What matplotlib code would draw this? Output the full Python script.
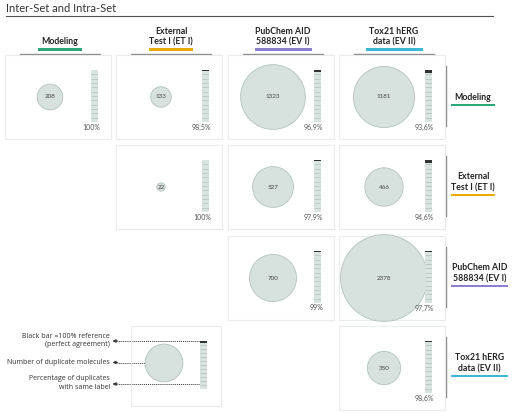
import numpy as np
import matplotlib.pyplot as plt
from matplotlib.patches import Circle, Rectangle

plt.rcParams['font.family'] = ['Lato', 'DejaVu Sans']

# data: duplicate counts and % with same label, upper triangle of the set matrix
set_names = ['Modeling', 'External\nTest I (ET I)', 'PubChem AID\n588834 (EV I)', 'Tox21 hERG\ndata (EV II)']
set_colors = ['#2ba677', '#e8a900', '#8b80cf', '#3cb7d4']
dup_counts = [[208, 133, 1323, 1181],
              [None, 22, 527, 466],
              [None, None, 700, 2378],
              [None, None, None, 350]]
same_label_pct = [[100, 98.5, 96.9, 93.6],
                  [None, 100, 97.9, 94.6],
                  [None, None, 99, 97.7],
                  [None, None, None, 98.6]]
legend_texts = ['Black bar =100% reference\n(perfect agreement)',
                'Number of duplicate molecules',
                'Percentage of duplicates\nwith same label']
legend_count = 450
legend_pct = 96

# layout in pixels
W, H = 520, 413
col_x = [4, 115, 227, 338]
row_y = [54, 144, 235, 325]
cw, ch = 108, 86
tag_w = [44, 44, 57, 57]
r_scale = 0.89

fig = plt.figure(figsize=(W / 100, H / 100), dpi=100)


def px_axes(x, y, w, h):
    return fig.add_axes([x / W, 1 - (y + h) / H, w / W, h / H])


def pct_text(p):
    return f'{p:g}'.replace('.', ',') + '%'


def draw_bar(x, y, h, pct):
    bx = px_axes(x, y, 7, h)
    bx.set_xlim(-0.5, 0.5)
    bx.set_ylim(0, 100)
    bx.axis('off')
    bx.bar(0, pct, width=1, color='#d9e4e0')
    bx.bar(0, 100 - pct, bottom=pct, width=1, color='#333333')
    seg = np.linspace(0, 100, 13)[1:-1]
    seg = seg[seg < pct]
    bx.hlines(seg, -0.5, 0.5, color='#b3c2be', lw=0.5)


def frame(ax, w, h):
    ax.add_patch(Rectangle((1, 1), w - 2, h - 2, fill=False, ec='#e8ecec', lw=0.8, clip_on=False))


bg = fig.add_axes([0, 0, 1, 1])
bg.set_xlim(0, W)
bg.set_ylim(H, 0)
bg.axis('off')

# title
bg.text(6, 8.5, 'Inter-Set and Intra-Set', fontsize=8, color='#333333', va='center')
bg.plot([6, 493], [15.5, 15.5], color='#555555', lw=0.8)

# column headers
for j, name in enumerate(set_names):
    cx = col_x[j] + 56
    bg.plot([col_x[j] + 16, col_x[j] + 96], [54, 54], color='#8a8a8a', lw=1)
    bg.add_patch(Rectangle((cx - tag_w[j] / 2, 48.3), tag_w[j], 2.8, color=set_colors[j], lw=0))
    bg.text(cx, 46.5, name, ha='center', va='bottom', fontsize=6.3, fontweight='bold',
            linespacing=1.25, color='#222222')

# row labels
for i, name in enumerate(set_names):
    by = row_y[i] + 51
    bg.add_patch(Rectangle((451, by - 1.4), tag_w[i], 2.8, color=set_colors[i], lw=0))
    bg.text(451 + tag_w[i] / 2, by - 3, name, ha='center', va='bottom', fontsize=6.3,
            fontweight='bold', linespacing=1.25, color='#222222')
    bg.plot([446, 446], [row_y[i] + 12, row_y[i] + 72], color='#8a8a8a', lw=1)

# cells
for i in range(4):
    for j in range(4):
        n = dup_counts[i][j]
        if n is None:
            continue
        x0, y0 = col_x[j], row_y[i]
        ax = px_axes(x0, y0, cw, ch)
        ax.set_xlim(0, cw)
        ax.set_ylim(ch, 0)
        ax.axis('off')
        frame(ax, cw, ch)
        ax.add_patch(Circle((46, 43), r_scale * np.sqrt(n), fc='#d7e1de', ec='#b3c3bf',
                            lw=0.6, clip_on=False))
        ax.text(46, 43, str(n), ha='center', va='center', fontsize=4.5, color='#444444')
        ax.text(96, 73, pct_text(same_label_pct[i][j]), ha='right', va='center',
                fontsize=5, color='#555555')
        draw_bar(x0 + 87, y0 + 16, 52, same_label_pct[i][j])

# legend
lg = px_axes(130, 325, 92, 82)
lg.set_xlim(0, 92)
lg.set_ylim(82, 0)
lg.axis('off')
frame(lg, 92, 82)
lg.add_patch(Circle((34, 38), r_scale * np.sqrt(legend_count), fc='#d7e1de', ec='#b3c3bf', lw=0.6))
draw_bar(200, 341, 48, legend_pct)

ann_y = [341, 362.5, 384]
text_y = [340.5, 362, 383]
ann_from = [199, 164, 199]
for t, ty, ay, ax0 in zip(legend_texts, text_y, ann_y, ann_from):
    bg.text(110, ty, t, ha='right', va='center', fontsize=5, color='#333333',
            family=['Open Sans', 'DejaVu Sans'], linespacing=1.3)
    bg.plot([ax0, 117], [ay, ay], color='#333333', lw=0.7, ls=(0, (1, 1)))
    bg.annotate('', xy=(112.5, ay), xytext=(118, ay),
                arrowprops=dict(arrowstyle='-|>', color='#333333', lw=0.6,
                                mutation_scale=5, shrinkA=0, shrinkB=0))

fig.savefig('out.png', dpi=100)
